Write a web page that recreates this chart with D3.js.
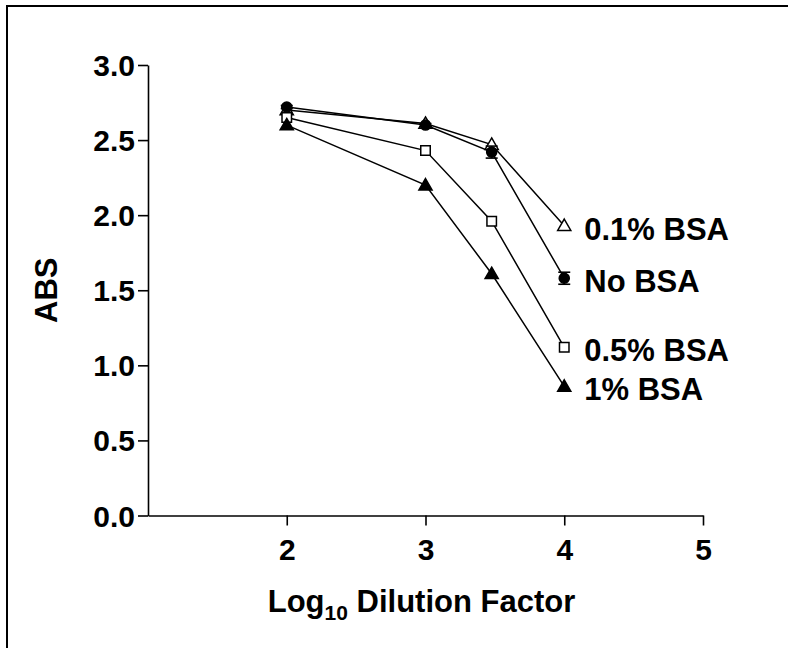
<!DOCTYPE html>
<meta charset="utf-8">
<style>
body { margin: 0; background: #fff; overflow: hidden; }
text { font-family: "Liberation Sans", Arial, sans-serif; font-weight: bold; fill: #000; }
.axis path, .axis line { stroke: #000; stroke-width: 1.6px; }
.series path.line { fill: none; stroke: #000; stroke-width: 1.5px; }
</style>
<svg width="788" height="648"></svg>
<script src="https://d3js.org/d3.v7.min.js"></script>
<script>

// log10 of dilution factors 100, 1000, 3000, 10000
var dilutions = [2, 3, 3.477, 4];
var noBSA    = [2.72, 2.60, 2.42, 1.58];
var noBSAErr = [0.01, 0.01, 0.04, 0.04];
var bsa01    = [2.70, 2.61, 2.47, 1.93];
var bsa05    = [2.65, 2.43, 1.96, 1.12];
var bsa1     = [2.60, 2.20, 1.61, 0.86];

var xTicks = [2, 3, 4, 5];
var yTicks = [0, 0.5, 1, 1.5, 2, 2.5, 3];

var series = [
  {name: "0.1% BSA", values: bsa01, symbol: d3.symbolTriangle, filled: false, err: null},
  {name: "No BSA",   values: noBSA, symbol: d3.symbolCircle,   filled: true,  err: noBSAErr},
  {name: "0.5% BSA", values: bsa05, symbol: d3.symbolSquare,   filled: false, err: null},
  {name: "1% BSA",   values: bsa1,  symbol: d3.symbolTriangle, filled: true,  err: null}
];

var svg = d3.select("svg");

// page frame: only its top and left edges fall inside the picture
svg.append("path")
    .attr("d", "M7,648V6H788")
    .attr("fill", "none")
    .attr("stroke", "#000")
    .attr("stroke-width", 2);

var x = d3.scaleLinear().domain([1, 5]).range([148, 703]);
var y = d3.scaleLinear().domain([0, 3]).range([515.5, 65]);

svg.append("g")
    .attr("class", "axis")
    .attr("transform", "translate(0," + y(0) + ")")
    .call(d3.axisBottom(x).tickValues(xTicks).tickSize(10).tickSizeOuter(0).tickPadding(13).tickFormat(d3.format("d")))
    .call(function(g) {
      g.selectAll("text").attr("font-size", 30);
    });

svg.append("g")
    .attr("class", "axis")
    .attr("transform", "translate(" + x(1) + ",0)")
    .call(d3.axisLeft(y).tickValues(yTicks).tickSize(10).tickSizeOuter(0).tickPadding(3).tickFormat(d3.format(".1f")))
    .call(function(g) {
      g.selectAll("text").attr("font-size", 30).attr("dy", "0.35em");
    });

svg.selectAll(".axis").attr("font-family", null);

// axis titles
var xt = svg.append("text")
    .attr("x", (x(1) + x(5)) / 2 - 4)
    .attr("y", 612)
    .attr("text-anchor", "middle")
    .attr("font-size", 31);
xt.append("tspan").text("Log");
xt.append("tspan").text("10").attr("font-size", 21).attr("dy", 8);
xt.append("tspan").text(" Dilution Factor").attr("dy", -8);

svg.append("text")
    .attr("transform", "translate(57," + (y(0) + y(3)) / 2 + ") rotate(-90)")
    .attr("text-anchor", "middle")
    .attr("font-size", 31)
    .text("ABS");

var line = d3.line()
    .x(function(d, i) { return x(dilutions[i]); })
    .y(function(d) { return y(d); });

var g = svg.selectAll(".series")
    .data(series)
  .enter().append("g")
    .attr("class", "series");

g.append("path")
    .attr("class", "line")
    .attr("d", function(d) { return line(d.values); });

// error bars
g.each(function(s) {
  if (!s.err) return;
  var eb = d3.select(this).selectAll(".err")
      .data(s.values.map(function(v, i) { return {x: dilutions[i], v: v, e: s.err[i]}; }))
    .enter().append("g")
      .attr("class", "err")
      .attr("stroke", "#000")
      .attr("stroke-width", 1.6);
  eb.append("line")
      .attr("x1", function(d) { return x(d.x); }).attr("x2", function(d) { return x(d.x); })
      .attr("y1", function(d) { return y(d.v + d.e); }).attr("y2", function(d) { return y(d.v - d.e); });
  eb.append("line")
      .attr("x1", function(d) { return x(d.x) - 6; }).attr("x2", function(d) { return x(d.x) + 6; })
      .attr("y1", function(d) { return y(d.v + d.e); }).attr("y2", function(d) { return y(d.v + d.e); });
  eb.append("line")
      .attr("x1", function(d) { return x(d.x) - 6; }).attr("x2", function(d) { return x(d.x) + 6; })
      .attr("y1", function(d) { return y(d.v - d.e); }).attr("y2", function(d) { return y(d.v - d.e); });
});

g.selectAll(".pt")
    .data(function(s) { return s.values.map(function(v, i) { return {x: dilutions[i], v: v, s: s}; }); })
  .enter().append("path")
    .attr("class", "pt")
    .attr("transform", function(d) {
      var dy = d.s.symbol === d3.symbolTriangle ? 1 : 0;
      return "translate(" + x(d.x) + "," + (y(d.v) + dy) + ")";
    })
    .attr("d", function(d) {
      var size = d.s.symbol === d3.symbolCircle ? 80 : d.s.symbol === d3.symbolSquare ? 90 : 75;
      return d3.symbol().type(d.s.symbol).size(size)();
    })
    .attr("fill", function(d) { return d.s.filled ? "#000" : "#fff"; })
    .attr("stroke", "#000")
    .attr("stroke-width", 1.5);

// series labels beside the last point
g.append("text")
    .attr("x", function(d) { return x(dilutions[dilutions.length - 1]) + 20; })
    .attr("y", function(d) { return y(d.values[d.values.length - 1]) + 3; })
    .attr("dy", "0.35em")
    .attr("font-size", 31)
    .text(function(d) { return d.name; });

</script>
